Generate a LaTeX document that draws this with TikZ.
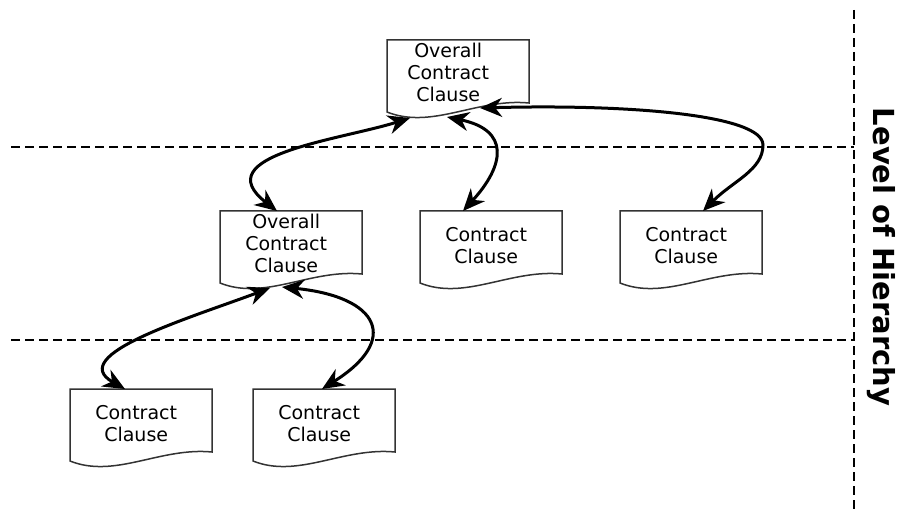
\documentclass[tikz,border=0pt]{standalone}
\usepackage{fontspec}
\setmainfont{DejaVu Sans}
\usetikzlibrary{arrows.meta,calc}

% A document-shaped box: flat top, straight sides, wavy bottom edge.
\newcommand\docnode[4][]{%
  \node[docbox,#1] (#2) at (#3) {#4};
  \draw[docline] (#2.north west) -- ++(142,0) -- ++(0,63)
    .. controls ($(#2.north west)+(90,58)$) and ($(#2.north west)+(45,90)$)
    .. ($(#2.north west)+(0,72)$) -- cycle;
}

\begin{document}
\begin{tikzpicture}[x=1pt,y=-1pt,
  docbox/.style={anchor=north west, minimum width=132pt, minimum height=68pt,
    inner sep=0pt, align=center, font=\fontsize{19pt}{22pt}\selectfont},
  docline/.style={draw=black!80, line width=1.5pt},
  link/.style={<->, >={Stealth[length=22pt,width=19pt,inset=7pt]},
    line width=3pt},
  level/.style={draw=black, line width=2.8pt, dash pattern=on 9pt off 5pt}]
\useasboundingbox (0,0) rectangle (903,516);

% hierarchy axis and level separators
\coordinate (axisTop) at (854,10);
\coordinate (axisBot) at (854,510);
\coordinate (cut1) at (11,147);
\coordinate (cut2) at (11,340);
\draw[level] (axisTop) -- (axisBot);
\draw[level] (cut1) -- (cut1 -| axisTop);
\draw[level] (cut2) -- (cut2 -| axisTop);
\node[rotate=-90, anchor=base, font=\fontsize{29pt}{34pt}\selectfont\bfseries]
  (axislabel) at (873,257) {Level of Hierarchy};

% clauses
\docnode[minimum width=122pt, minimum height=64pt]{top}{387,40}{Overall\\Contract\\Clause}
\docnode[minimum height=65pt]{midL}{220,211}{Overall\\Contract\\Clause}
\docnode{midC}{420,211}{Contract\\Clause}
\docnode{midR}{620,211}{Contract\\Clause}
\docnode{botL}{70,389}{Contract\\Clause}
\docnode{botR}{253,389}{Contract\\Clause}

% links between levels
\draw[link] ($(midL.north west)+(57,0)$) .. controls +(-72,-56) and +(-70,22)
  .. ($(top.north west)+(23,78)$);
\draw[link] ($(top.north west)+(60,77)$) .. controls +(63,13) and +(42,-46)
  .. ($(midC.north west)+(43,0)$);
\draw[link] ($(top.north west)+(93,68)$) .. controls +(150,-4) and +(0,-30)
  .. ($(midR.north west)+(143,-66)$) .. controls +(0,25) and +(30,-30)
  .. ($(midR.north west)+(83,0)$);
\draw[link] ($(midL.north west)+(50,77)$) .. controls +(-80,30) and +(-60,-34)
  .. ($(botL.north west)+(55,0)$);
\draw[link] ($(midL.north west)+(62,76)$) .. controls +(98,10) and +(78,-49)
  .. ($(botR.north west)+(69,0)$);
\end{tikzpicture}
\end{document}
